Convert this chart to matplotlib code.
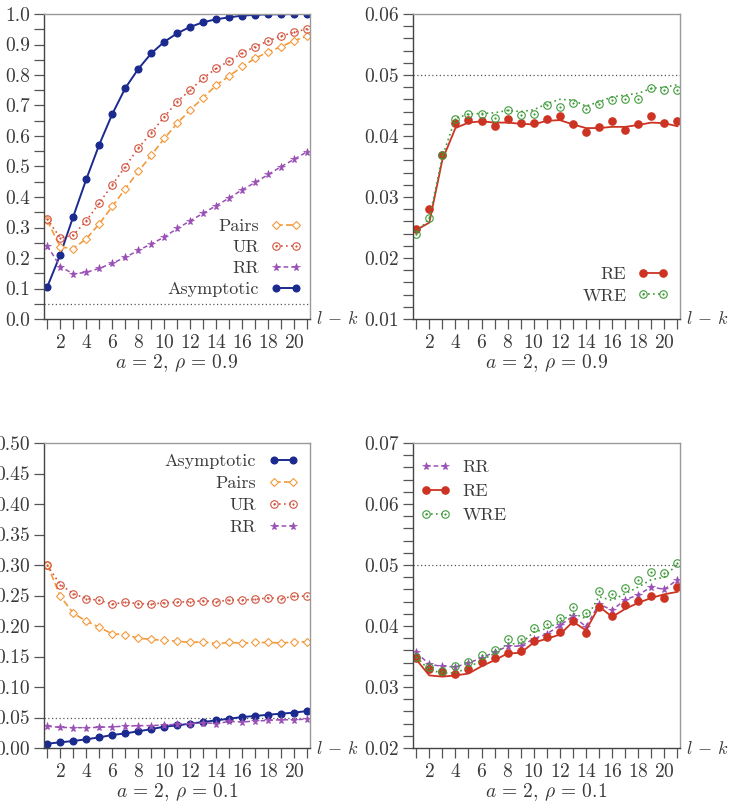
import numpy as np
import matplotlib
matplotlib.use("Agg")
import matplotlib.pyplot as plt
from matplotlib.lines import Line2D
from matplotlib.legend_handler import HandlerLine2D
from matplotlib.path import Path
from matplotlib.ticker import MultipleLocator, FormatStrFormatter

# lag differences l - k
lags = list(range(1, 22))

# a = 2, rho = 0.9 (top left)
asym_09 = [0.105, 0.211, 0.336, 0.458, 0.572, 0.672, 0.757, 0.820, 0.871, 0.909, 0.937,
           0.958, 0.973, 0.983, 0.989, 0.995, 0.997, 0.999, 0.999, 1.000, 1.000]
pairs_09 = [0.323, 0.236, 0.231, 0.263, 0.312, 0.369, 0.427, 0.484, 0.537, 0.592, 0.642,
            0.686, 0.726, 0.767, 0.797, 0.828, 0.855, 0.876, 0.893, 0.913, 0.928]
ur_09 = [0.328, 0.266, 0.275, 0.322, 0.380, 0.440, 0.500, 0.560, 0.611, 0.663, 0.713,
         0.751, 0.790, 0.822, 0.846, 0.873, 0.893, 0.912, 0.928, 0.940, 0.952]
rr_09 = [0.240, 0.172, 0.148, 0.153, 0.166, 0.183, 0.202, 0.225, 0.246, 0.269, 0.297,
         0.322, 0.347, 0.372, 0.397, 0.424, 0.448, 0.474, 0.500, 0.524, 0.549]

# a = 2, rho = 0.9 (top right): marks and smoothed line
re_09_marks = [0.0247, 0.0280, 0.0369, 0.0421, 0.0427, 0.0425, 0.0417, 0.0428, 0.0421, 0.0422, 0.0428,
               0.0433, 0.0420, 0.0407, 0.0414, 0.0425, 0.0410, 0.0420, 0.0433, 0.0422, 0.0425]
re_09_line = [0.0246, 0.0258, 0.0361, 0.0413, 0.0422, 0.0424, 0.0422, 0.0422, 0.0420, 0.0419, 0.0425,
              0.0426, 0.0419, 0.0413, 0.0413, 0.0415, 0.0415, 0.0418, 0.0422, 0.0421, 0.0416]
wre_09_marks = [0.0240, 0.0265, 0.0369, 0.0428, 0.0436, 0.0436, 0.0429, 0.0442, 0.0434, 0.0436, 0.0451,
                0.0447, 0.0454, 0.0444, 0.0452, 0.0459, 0.0460, 0.0461, 0.0478, 0.0475, 0.0475]
wre_09_line = [0.0241, 0.0265, 0.0366, 0.0429, 0.0436, 0.0437, 0.0438, 0.0442, 0.0440, 0.0443, 0.0453,
               0.0460, 0.0459, 0.0449, 0.0456, 0.0464, 0.0467, 0.0470, 0.0478, 0.0480, 0.0484]

# a = 2, rho = 0.1 (bottom row)
asym_01 = [0.0071, 0.0093, 0.0115, 0.0142, 0.0175, 0.0213, 0.0240, 0.0273, 0.0310, 0.0350, 0.0370,
           0.0400, 0.0426, 0.0454, 0.0480, 0.0508, 0.0525, 0.0546, 0.0563, 0.0580, 0.0607]
pairs_01 = [0.3005, 0.249, 0.221, 0.208, 0.198, 0.187, 0.186, 0.180, 0.178, 0.1765, 0.175,
            0.173, 0.174, 0.171, 0.173, 0.172, 0.173, 0.173, 0.172, 0.174, 0.174]
ur_01 = [0.2995, 0.268, 0.253, 0.245, 0.242, 0.236, 0.239, 0.2366, 0.236, 0.238, 0.239,
         0.240, 0.2415, 0.240, 0.2426, 0.2426, 0.2437, 0.246, 0.245, 0.249, 0.249]
rr_01 = [0.0357, 0.0337, 0.0334, 0.0333, 0.0339, 0.0348, 0.0357, 0.0367, 0.0367, 0.0379, 0.0387,
         0.0401, 0.0416, 0.0399, 0.0436, 0.0426, 0.0443, 0.0451, 0.0464, 0.0460, 0.0476]
re_01_marks = [0.0348, 0.0329, 0.0325, 0.0321, 0.0329, 0.0341, 0.0348, 0.0356, 0.0359, 0.0375, 0.0382,
               0.0390, 0.0409, 0.0389, 0.0431, 0.0416, 0.0435, 0.0441, 0.0449, 0.0446, 0.0464]
re_01_line = [0.0345, 0.0319, 0.0317, 0.0319, 0.0322, 0.0334, 0.0344, 0.0355, 0.0356, 0.0373, 0.0379,
              0.0386, 0.0407, 0.0393, 0.0432, 0.0415, 0.0428, 0.0438, 0.0446, 0.0452, 0.0456]
wre_01_marks = [0.0350, 0.0332, 0.0327, 0.0334, 0.0341, 0.0352, 0.0360, 0.0378, 0.0378, 0.0397, 0.0404,
                0.0413, 0.0431, 0.0421, 0.0458, 0.0452, 0.0463, 0.0475, 0.0489, 0.0487, 0.0503]
wre_01_line = [0.0349, 0.0328, 0.0323, 0.0323, 0.0332, 0.0344, 0.0355, 0.0371, 0.0371, 0.0390, 0.0396,
               0.0407, 0.0421, 0.0412, 0.0448, 0.0442, 0.0453, 0.0464, 0.0476, 0.0480, 0.0502]

nominal = 0.05

plt.rcParams['font.family'] = 'cmr10'
plt.rcParams['mathtext.fontset'] = 'cm'
plt.rcParams['axes.formatter.use_mathtext'] = True

txt = '#3a3a3a'
c_asym = '#1b2a8f'
c_pairs = '#f39a3c'
c_ur = '#d2553f'
c_rr = '#9a4fb5'
c_re = '#cc3322'
c_wre = '#3f9a3a'

# circle with a dot in the middle (pgfplots "o" with dot)
dot_circle = Path.make_compound_path(Path.unit_circle(), Path.circle((0, 0), 0.15))


def draw_asym(ax, y):
    ax.plot(lags, y, color=c_asym, lw=1.4, marker='o', ms=4.8, label='Asymptotic')


def draw_pairs(ax, y):
    ax.plot(lags, y, color=c_pairs, lw=1.2, ls=(0, (4, 2)), marker='D', ms=4.0,
            mfc='white', mec=c_pairs, mew=0.8, label='Pairs')


def draw_ur(ax, y):
    ax.plot(lags, y, color=c_ur, lw=1.2, ls=(0, (1, 2)), marker=dot_circle, ms=5.4,
            mfc='none', mec=c_ur, mew=0.8, label='UR')


def draw_rr(ax, y):
    ax.plot(lags, y, color=c_rr, lw=1.1, ls=(0, (3, 2)), marker='*', ms=5.8,
            mec=c_rr, mew=0.5, label='RR')


def draw_re(ax, marks, line):
    ax.plot(lags, line, color=c_re, lw=1.3)
    ax.plot(lags, marks, ls='none', color=c_re, marker='o', ms=5.2)
    return Line2D([], [], color=c_re, lw=1.3, marker='o', ms=5.2, label='RE')


def draw_wre(ax, marks, line):
    ax.plot(lags, line, color=c_wre, lw=1.2, ls=(0, (1, 2)))
    ax.plot(lags, marks, ls='none', marker=dot_circle, ms=5.4, mfc='none', mec=c_wre, mew=0.8)
    return Line2D([], [], color=c_wre, lw=1.2, ls=(0, (1, 2)), marker=dot_circle, ms=5.4,
                  mfc='none', mec=c_wre, mew=0.8, label='WRE')


def style_axis(ax, ylim, major, minor, fmt, subtitle):
    ax.set_xlim(0.75, 21.2)
    ax.set_ylim(*ylim)
    ax.xaxis.set_major_locator(MultipleLocator(2))
    ax.xaxis.set_minor_locator(MultipleLocator(1))
    ax.yaxis.set_major_locator(MultipleLocator(major))
    if minor:
        ax.yaxis.set_minor_locator(MultipleLocator(minor))
    ax.yaxis.set_major_formatter(FormatStrFormatter(fmt))
    ax.tick_params(which='both', direction='out', length=7, width=0.9, colors='#555555',
                   labelcolor=txt, labelsize=14, top=False, right=False)
    ax.tick_params(axis='x', which='both', pad=4)
    ax.tick_params(axis='y', which='both', pad=3)
    for s in ['left', 'bottom']:
        ax.spines[s].set_color('#444444')
        ax.spines[s].set_linewidth(1.0)
    for s in ['top', 'right']:
        ax.spines[s].set_color('#999999')
        ax.spines[s].set_linewidth(1.0)
    ax.axhline(nominal, color='#555555', lw=0.9, ls=(0, (1, 2)), zorder=1)
    ax.text(1.022, 0.0, r'$l\,-\,k$', transform=ax.transAxes, ha='left', va='center',
            fontsize=13, color=txt)
    ax.text(0.5, -0.145, subtitle, transform=ax.transAxes, ha='center', va='center',
            fontsize=14, color=txt)


def legend(ax, handles, loc, anchor, spacing, markerfirst=False):
    leg = ax.legend(handles=handles, loc=loc, bbox_to_anchor=anchor, frameon=False,
                    markerfirst=markerfirst, numpoints=2, handlelength=2.5,
                    handletextpad=0.25, labelspacing=spacing, borderpad=0, borderaxespad=0,
                    fontsize=13, handler_map={Line2D: HandlerLine2D(marker_pad=0.7)})
    for t in leg.get_texts():
        t.set_color(txt)


fig = plt.figure(figsize=(7.3, 8.06), dpi=100)
h = 305 / 806
ax_tl = fig.add_axes([44 / 730, 1 - 319 / 806, 266 / 730, h])
ax_tr = fig.add_axes([413 / 730, 1 - 319 / 806, 267 / 730, h])
ax_bl = fig.add_axes([44 / 730, 1 - 748 / 806, 266 / 730, h])
ax_br = fig.add_axes([413 / 730, 1 - 748 / 806, 267 / 730, h])

sub_09 = r'$a\,=\,2,\,\rho\,=\,0.9$'
sub_01 = r'$a\,=\,2,\,\rho\,=\,0.1$'

# top left
draw_asym(ax_tl, asym_09)
draw_pairs(ax_tl, pairs_09)
draw_ur(ax_tl, ur_09)
draw_rr(ax_tl, rr_09)
style_axis(ax_tl, (0, 1.0), 0.1, 0.05, '%.1f', sub_09)
hl = {l.get_label(): l for l in ax_tl.get_lines()}
legend(ax_tl, [hl['Pairs'], hl['UR'], hl['RR'], hl['Asymptotic']], 'lower right',
       (0.995, 0.072), 0.3)

# top right
h_re = draw_re(ax_tr, re_09_marks, re_09_line)
h_wre = draw_wre(ax_tr, wre_09_marks, wre_09_line)
style_axis(ax_tr, (0.01, 0.06), 0.01, 0.002, '%.2f', sub_09)
legend(ax_tr, [h_re, h_wre], 'lower right', (0.985, 0.05), 0.32)

# bottom left
draw_asym(ax_bl, asym_01)
draw_pairs(ax_bl, pairs_01)
draw_ur(ax_bl, ur_01)
draw_rr(ax_bl, rr_01)
style_axis(ax_bl, (0, 0.5), 0.05, None, '%.2f', sub_01)
hl = {l.get_label(): l for l in ax_bl.get_lines()}
legend(ax_bl, [hl['Asymptotic'], hl['Pairs'], hl['UR'], hl['RR']], 'upper right',
       (0.985, 0.965), 0.35)

# bottom right
draw_rr(ax_br, rr_01)
h_re = draw_re(ax_br, re_01_marks, re_01_line)
h_wre = draw_wre(ax_br, wre_01_marks, wre_01_line)
style_axis(ax_br, (0.02, 0.07), 0.01, 0.002, '%.2f', sub_01)
h_rr = [l for l in ax_br.get_lines() if l.get_label() == 'RR'][0]
legend(ax_br, [h_rr, h_re, h_wre], 'upper left', (0.0, 0.945), 0.45, markerfirst=True)

fig.savefig('out.png', dpi=100)
